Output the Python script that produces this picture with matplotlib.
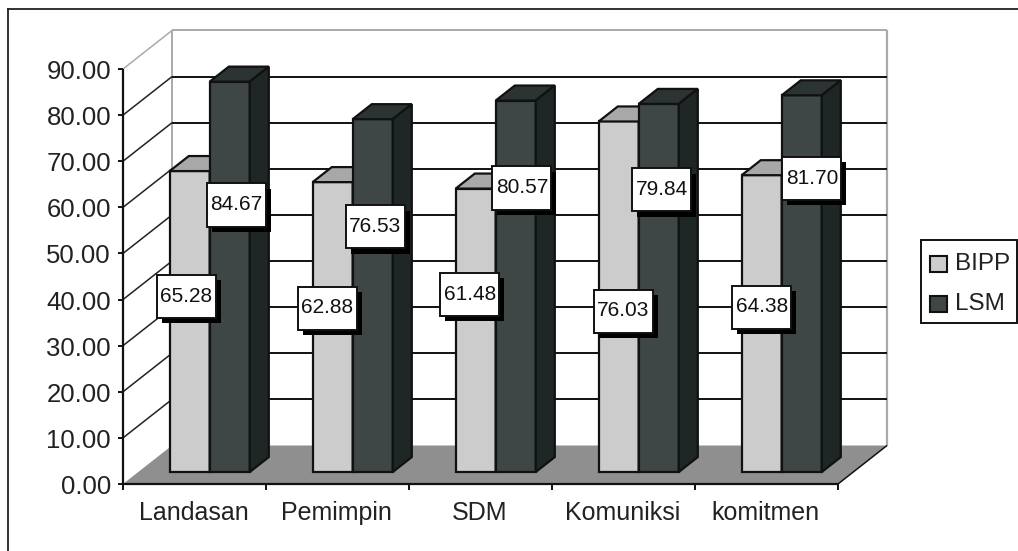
"""3-D style clustered columns: BIPP vs LSM scores per aspect."""

import matplotlib

matplotlib.use("Agg")
import matplotlib.pyplot as plt  # noqa: E402
from matplotlib.lines import Line2D  # noqa: E402
from matplotlib.patches import Polygon, Rectangle  # noqa: E402

CATEGORIES = ["Landasan", "Pemimpin", "SDM", "Komuniksi", "komitmen"]
BIPP = [65.28, 62.88, 61.48, 76.03, 64.38]
LSM = [84.67, 76.53, 80.57, 79.84, 81.70]
Y_TICKS = [0, 10, 20, 30, 40, 50, 60, 70, 80, 90]

# label box centres in figure pixels, the boxes were placed by hand
BIPP_BOX = [(186, 296), (327, 308), (470, 294), (623, 311), (762, 307)]
LSM_BOX = [(236, 205), (375, 227), (522, 188), (662, 190), (812, 179)]

W, H = 1018, 551
X0, X1, Y0, Y90 = 123, 838, 484, 69
UX = (X1 - X0) / 5
UY = (Y0 - Y90) / 90
DEPTH_X = 49 / UX
DEPTH_Y = 38.5 / UY
BAR_W = 40 / UX
BAR_GAP = 31.5 / UX
FRONT, BACK = 0.31, 0.70

LIGHT = ("#cccccc", "#a8a8a8", "#8a8a8a")
DARK = ("#3e4646", "#2b3333", "#1e2626")
EDGE = "#111111"

plt.rcParams["font.family"] = ["Liberation Sans", "DejaVu Sans"]

fig = plt.figure(figsize=(W / 100, H / 100), dpi=100)
ax = fig.add_axes([X0 / W, 1 - Y0 / H, (X1 - X0) / W, (Y0 - Y90) / H])
ax.set_xlim(0, 5)
ax.set_ylim(0, 90)
ax.axis("off")


def poly(pts, fc, ec=EDGE, lw=1.6, z=3):
    ax.add_patch(Polygon(pts, closed=True, fc=fc, ec=ec, lw=lw, zorder=z, clip_on=False))


def line(xs, ys, color=EDGE, lw=1.4, z=2):
    ax.plot(xs, ys, color=color, lw=lw, zorder=z, clip_on=False, solid_capstyle="butt")


def draw_bar(x, value, colors, z):
    # x is the left edge on the floor's front line, the bar sits part way back
    fx, fy = x + FRONT * DEPTH_X, FRONT * DEPTH_Y
    d = (BACK - FRONT)
    dx, dy = d * DEPTH_X, d * DEPTH_Y
    top = fy + value
    poly([(fx, fy), (fx + BAR_W, fy), (fx + BAR_W, top), (fx, top)], colors[0], z=z)
    poly([(fx, top), (fx + BAR_W, top), (fx + BAR_W + dx, top + dy), (fx + dx, top + dy)],
         colors[1], z=z)
    poly([(fx + BAR_W, fy), (fx + BAR_W + dx, fy + dy), (fx + BAR_W + dx, top + dy),
          (fx + BAR_W, top)], colors[2], z=z)


def draw_box(centre, value):
    x = (centre[0] - X0) / UX
    y = (Y0 - centre[1]) / UY
    w, h = 59 / UX, 43 / UY
    sx, sy = 5 / UX, 5 / UY
    ax.add_patch(Rectangle((x - w / 2 + sx, y - h / 2 - sy), w, h, fc="black", ec="none",
                           zorder=20, clip_on=False))
    ax.add_patch(Rectangle((x - w / 2, y - h / 2), w, h, fc="white", ec=EDGE, lw=1.4,
                           zorder=21, clip_on=False))
    ax.text(x, y, f"{value:.2f}", ha="center", va="center", fontsize=15, color="#111111",
            zorder=22, clip_on=False)


# floor and walls
poly([(0, 0), (DEPTH_X, DEPTH_Y), (5 + DEPTH_X, DEPTH_Y), (5, 0)], "#8f8f8f", ec="none", z=1)
line([DEPTH_X, DEPTH_X], [DEPTH_Y, 90 + DEPTH_Y], "#aaaaaa", 1.4)
line([5 + DEPTH_X, 5 + DEPTH_X], [DEPTH_Y, 90 + DEPTH_Y], "#aaaaaa", 1.6)
line([DEPTH_X, 5 + DEPTH_X], [90 + DEPTH_Y, 90 + DEPTH_Y], "#aaaaaa", 1.4)
line([0, DEPTH_X], [90, 90 + DEPTH_Y], "#aaaaaa", 1.1)
line([5, 5 + DEPTH_X], [0, DEPTH_Y], EDGE, 1.1)

# gridlines run along the back wall and down the side wall
for t in Y_TICKS[1:-1]:
    line([DEPTH_X, 5 + DEPTH_X], [t + DEPTH_Y, t + DEPTH_Y])
    line([0, DEPTH_X], [t, t + DEPTH_Y], "#222222", 1.1)

for i in range(5):
    draw_bar(i + BAR_GAP, BIPP[i], LIGHT, 5 + 2 * i)
    draw_bar(i + BAR_GAP + BAR_W, LSM[i], DARK, 6 + 2 * i)

# axes, ticks and their labels
line([0, 0], [0, 90], EDGE, 1.6, 30)
line([0, 5], [0, 0], EDGE, 1.6, 30)
for t in Y_TICKS:
    line([-5 / UX, 0], [t, t], EDGE, 1.4, 30)
    ax.text(-12 / UX, t - 3 / UY, f"{t:.2f}", ha="right", va="center", fontsize=18.5,
            color="#222222", clip_on=False)
for i in range(6):
    line([i, i], [0, -6 / UY], EDGE, 1.4, 30)
for i, name in enumerate(CATEGORIES):
    ax.text(i + 0.5 - 1 / UX, -29 / UY, name, ha="center", va="center", fontsize=18,
            color="#222222", clip_on=False)

for i in range(5):
    draw_box(BIPP_BOX[i], BIPP[i])
    draw_box(LSM_BOX[i], LSM[i])

# legend box, drawn by hand so the swatches keep their outlines
fig.add_artist(Rectangle((921 / W, 1 - 323 / H), 96 / W, 83 / H, transform=fig.transFigure,
                         fc="white", ec=EDGE, lw=1.4))
for y, colors, name in [(264, LIGHT, "BIPP"), (304, DARK, "LSM")]:
    fig.add_artist(Rectangle((930 / W, 1 - (y + 8) / H), 17 / W, 16 / H,
                             transform=fig.transFigure, fc=colors[0], ec=EDGE, lw=1.5))
    fig.text(955 / W, 1 - y / H, name, ha="left", va="center", fontsize=17.5, color="#222222")

# outer frame, open on the right and at the bottom
fig.add_artist(Line2D([8 / W, 8 / W], [0, 1 - 9 / H], color="#222222", lw=1.3))
fig.add_artist(Line2D([8 / W, 1], [1 - 9 / H, 1 - 9 / H], color="#222222", lw=1.3))

fig.savefig("out.png", dpi=100)
plt.close(fig)
